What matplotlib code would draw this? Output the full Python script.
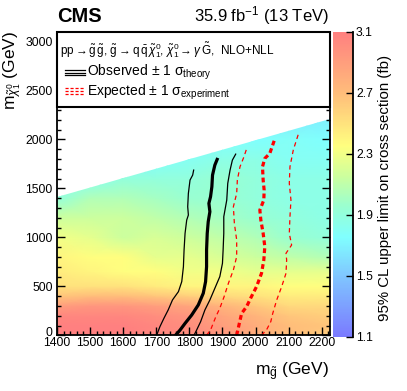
import numpy as np
import matplotlib
matplotlib.use("Agg")
import matplotlib.pyplot as plt
from matplotlib.colors import LinearSegmentedColormap, Normalize
from matplotlib.patches import Polygon, Rectangle
from matplotlib.lines import Line2D
import matplotlib.transforms as mtransforms

plt.rcParams['font.family'] = ['Liberation Sans', 'DejaVu Sans']
plt.rcParams['mathtext.fontset'] = 'custom'
plt.rcParams['mathtext.rm'] = 'Liberation Sans'
plt.rcParams['mathtext.it'] = 'Liberation Sans:italic'
plt.rcParams['mathtext.bf'] = 'Liberation Sans:bold'
plt.rcParams['mathtext.fallback'] = 'stixsans'

# grid nodes of the limit map (GeV)
m_gluino = [1400, 1500, 1600, 1700, 1800, 1900, 2000, 2100, 2225]
m_neutralino = [0, 100, 200, 300, 400, 500, 650, 800, 1000, 1200, 1400, 1600, 1800, 2000, 2250]

# 95% CL upper limit on cross section (fb), one row per m_neutralino node
limit_fb = [
    [3.10, 3.10, 3.10, 3.05, 3.00, 2.95, 2.80, 2.70, 2.60],
    [3.10, 3.10, 3.10, 3.05, 3.00, 2.90, 2.80, 2.70, 2.65],
    [3.05, 3.05, 3.05, 3.00, 2.95, 2.85, 2.75, 2.65, 2.60],
    [2.90, 2.95, 2.95, 2.90, 2.85, 2.75, 2.65, 2.55, 2.55],
    [2.65, 2.70, 2.70, 2.65, 2.60, 2.55, 2.50, 2.45, 2.45],
    [2.50, 2.50, 2.50, 2.45, 2.40, 2.40, 2.40, 2.35, 2.35],
    [2.45, 2.40, 2.35, 2.35, 2.30, 2.30, 2.25, 2.25, 2.25],
    [2.40, 2.35, 2.35, 2.25, 2.25, 2.20, 2.15, 2.10, 2.05],
    [2.30, 2.25, 2.15, 2.20, 2.15, 2.10, 2.05, 1.95, 1.90],
    [2.15, 2.15, 2.15, 2.10, 2.05, 2.00, 1.95, 1.90, 1.85],
    [1.90, 2.05, 2.05, 2.00, 1.95, 1.95, 1.90, 1.85, 1.85],
    [1.75, 1.80, 1.90, 1.90, 1.90, 1.95, 1.90, 1.85, 1.85],
    [1.65, 1.65, 1.70, 1.75, 1.80, 1.85, 1.85, 1.80, 1.80],
    [1.60, 1.60, 1.60, 1.65, 1.70, 1.75, 1.75, 1.78, 1.75],
    [1.55, 1.55, 1.55, 1.60, 1.62, 1.65, 1.65, 1.65, 1.68],
]

# edge of the scanned region (upper boundary)
edge_x = [1400, 2225]
edge_y = [1410, 2210]

# exclusion contours (m_gluino, m_neutralino)
obs_x = [1758, 1772, 1787, 1807, 1827, 1842, 1849, 1852, 1852, 1854, 1857, 1862, 1859, 1864, 1868, 1870, 1877, 1884]
obs_y = [0, 54, 122, 207, 310, 429, 548, 700, 871, 1041, 1160, 1262, 1347, 1415, 1517, 1636, 1738, 1796]
obs_dn_x = [1701, 1711, 1723, 1736, 1749, 1767, 1777, 1782, 1784, 1787, 1792, 1797, 1795, 1797, 1802, 1810, 1813]
obs_dn_y = [0, 88, 173, 259, 361, 446, 548, 700, 871, 1041, 1177, 1228, 1313, 1449, 1585, 1636, 1687]
obs_up_x = [1814, 1822, 1834, 1847, 1862, 1877, 1892, 1900, 1902, 1904, 1904, 1913, 1916, 1923, 1930, 1940]
obs_up_y = [0, 54, 139, 259, 361, 480, 599, 735, 871, 1041, 1211, 1381, 1551, 1687, 1789, 1850]
exp_x = [1943, 1951, 1958, 1973, 1985, 2003, 2018, 2025, 2028, 2023, 2016, 2013, 2025, 2026, 2023, 2021, 2028, 2043, 2057]
exp_y = [0, 122, 224, 293, 378, 497, 633, 769, 905, 1041, 1177, 1279, 1381, 1483, 1585, 1721, 1806, 1857, 1993]
exp_dn_x = [1852, 1864, 1872, 1880, 1892, 1905, 1918, 1933, 1943, 1943, 1936, 1933, 1943, 1945, 1953, 1965, 1975]
exp_dn_y = [0, 54, 122, 190, 276, 395, 531, 667, 803, 973, 1143, 1313, 1449, 1585, 1721, 1823, 1925]
exp_up_x = [2018, 2033, 2046, 2052, 2064, 2079, 2092, 2094, 2092, 2109, 2102, 2104, 2107, 2102, 2104, 2114, 2130]
exp_up_y = [0, 54, 139, 224, 361, 497, 633, 769, 837, 922, 1041, 1211, 1381, 1551, 1721, 1891, 2061]

zmin, zmax = 1.1, 3.1
stops = [(1.1, (0.48, 0.48, 1.0)), (1.5, (0.5, 0.78, 1.0)), (1.75, (0.5, 1.0, 1.0)),
         (1.95, (0.6, 1.0, 0.82)), (2.15, (0.8, 1.0, 0.62)), (2.35, (1.0, 1.0, 0.5)),
         (2.7, (1.0, 0.74, 0.48)), (3.1, (1.0, 0.5, 0.5))]
cmap = LinearSegmentedColormap.from_list('pale_rainbow', [((v - zmin) / (zmax - zmin), c) for v, c in stops])

W, H = 407, 391
fig = plt.figure(figsize=(W / 100, H / 100), dpi=100)

def fx(px):
    return px / W

def fy(py):
    return 1 - py / H

ax = fig.add_axes([fx(57), fy(335.3), fx(330) - fx(57), fy(31.7) - fy(335.3)])

X, Y = np.meshgrid(m_gluino, m_neutralino)
mesh = ax.pcolormesh(X, Y, np.array(limit_fb), cmap=cmap, norm=Normalize(zmin, zmax),
                     shading='gouraud', zorder=1)
region = Polygon([(edge_x[0], 0), (edge_x[1], 0), (edge_x[1], edge_y[1]), (edge_x[0], edge_y[0])],
                 closed=True, transform=ax.transData, facecolor='none', edgecolor='none')
mesh.set_clip_path(region)

ax.plot(obs_x, obs_y, color='black', lw=2.3, zorder=2)
ax.plot(obs_dn_x, obs_dn_y, color='black', lw=0.9, zorder=2)
ax.plot(obs_up_x, obs_up_y, color='black', lw=0.9, zorder=2)
ax.plot(exp_x, exp_y, color='red', lw=2.3, ls=(0, (1.5, 1.0)), zorder=2)
ax.plot(exp_dn_x, exp_dn_y, color='red', lw=0.9, ls=(0, (3.5, 2.8)), zorder=2)
ax.plot(exp_up_x, exp_up_y, color='red', lw=0.9, ls=(0, (3.5, 2.8)), zorder=2)

ax.set_xlim(1400, 2225)
ax.set_ylim(0, 3100)
ax.set_xticks(np.arange(1400, 2201, 100))
ax.set_xticks(np.arange(1400, 2225, 20), minor=True)
ax.set_yticks(np.arange(0, 3001, 500))
ax.set_yticks(np.arange(0, 3100, 100), minor=True)
ax.set_yticklabels(['0', '500', '1000', '1500', '2000', '2500', '3000'])
ax.tick_params(which='both', direction='in', top=True, right=True, width=1.0, color='black')
ax.tick_params(which='major', length=6)
ax.tick_params(which='minor', length=3)
ax.tick_params(axis='x', labelsize=8.8, pad=1.5)
ax.tick_params(axis='y', labelsize=8.8, pad=3)
for sp in ax.spines.values():
    sp.set_linewidth(1.3)
# lift the "0" label a little so it sits above the x labels
zero_lbl = ax.get_yticklabels()[0]
zero_lbl.set_transform(zero_lbl.get_transform() + mtransforms.ScaledTranslation(0, 3 / 72, fig.dpi_scale_trans))

# legend box on top of the map
ax.add_patch(Rectangle((0, 0.752), 1, 0.248, transform=ax.transAxes, facecolor='white',
                       edgecolor='black', lw=1.5, zorder=3, clip_on=False))

fig.text(fx(60), fy(50), r'pp$\rightarrow\tilde{\mathrm{g}}\,\tilde{\mathrm{g}}$, '
         r'$\tilde{\mathrm{g}}\rightarrow\mathrm{q}\,\bar{\mathrm{q}}\,\tilde{\chi}^{0}_{1}$, '
         r'$\tilde{\chi}^{0}_{1}\rightarrow\gamma\,\tilde{\mathrm{G}}$,  NLO+NLL',
         fontsize=8.5, ha='left', va='center')
fig.text(fx(87), fy(72), r'Observed ± 1 σ$_{\mathrm{theory}}$', fontsize=10, ha='left', va='center')
fig.text(fx(87), fy(92), r'Expected ± 1 σ$_{\mathrm{experiment}}$', fontsize=10, ha='left', va='center')
for dy in [-2.6, 0, 2.6]:
    fig.add_artist(Line2D([fx(65), fx(85)], [fy(72.5 + dy), fy(72.5 + dy)], color='black', lw=0.9,
                          transform=fig.transFigure))
for dy in [-2.6, 0, 2.6]:
    fig.add_artist(Line2D([fx(65), fx(85)], [fy(91 + dy), fy(91 + dy)], color='red', lw=0.9,
                          ls=(0, (2.5, 1.5)), transform=fig.transFigure))

# header
fig.text(fx(57), fy(16), 'CMS', fontsize=14.5, fontweight='bold', ha='left', va='center')
fig.text(fx(329), fy(16), r'35.9 fb$^{-1}$ (13 TeV)', fontsize=12, ha='right', va='center')

# axis titles
fig.text(fx(329), fy(372), r'm$_{\tilde{\mathrm{g}}}$ (GeV)', fontsize=12.5, ha='right', va='center')
fig.text(fx(12), fy(31), r'm$_{\tilde{\chi}^{0}_{1}}$ (GeV)', fontsize=12.5, ha='center', va='top', rotation=90)

# colour scale
cax = fig.add_axes([fx(333.3), fy(336.7), fx(353.3) - fx(333.3), fy(31.7) - fy(336.7)])
cbar = fig.colorbar(mesh, cax=cax)
cbar.outline.set_visible(False)
cbar.set_ticks([1.1, 1.5, 1.9, 2.3, 2.7, 3.1])
cbar.set_ticklabels(['1.1', '1.5', '1.9', '2.3', '2.7', '3.1'])
cax.tick_params(direction='in', length=5, width=1.0, labelsize=8.8, pad=2, color='black')
cax.spines['right'].set_visible(True)
cax.spines['right'].set_linewidth(1.3)
fig.text(fx(385), fy(188), '95% CL upper limit on cross section (fb)', fontsize=10.8,
         rotation=90, ha='center', va='center')

fig.savefig('out.png', dpi=100)
